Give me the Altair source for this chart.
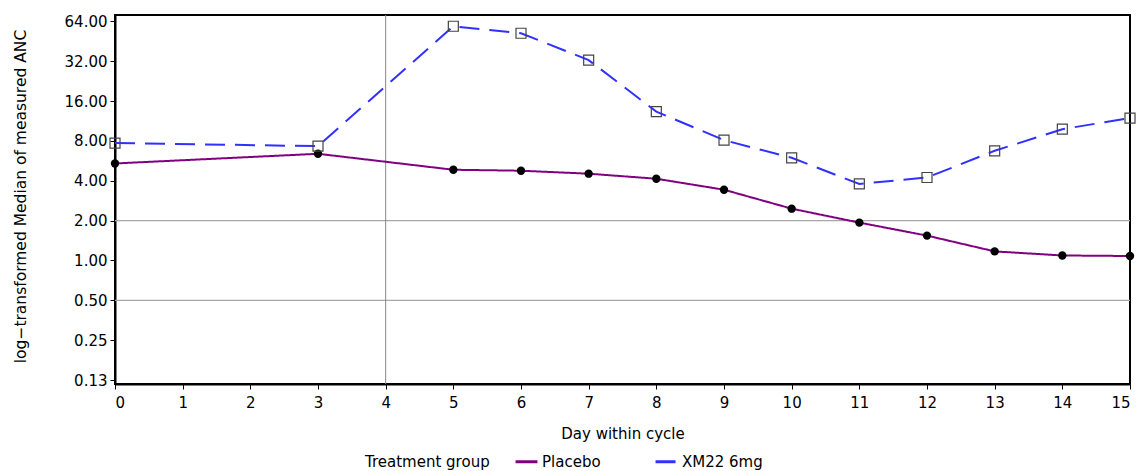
import altair as alt
import pandas as pd

days = [0, 3, 5, 6, 7, 8, 9, 10, 11, 12, 13, 14, 15]
placebo = [5.4, 6.39, 4.84, 4.76, 4.52, 4.14, 3.42, 2.46, 1.93, 1.54, 1.17, 1.09, 1.08]
xm22 = [7.7, 7.3, 58.7, 52.0, 32.6, 13.3, 8.1, 5.96, 3.78, 4.23, 6.73, 9.8, 11.9]
groups = ["Placebo", "XM22 6mg"]
colors = ["#800080", "#3030ff"]
y_ticks = [0.125, 0.25, 0.5, 1, 2, 4, 8, 16, 32, 64]
x_ticks = list(range(16))
ref_y = [0.5, 2]
ref_x = [4]

df = pd.DataFrame({
    "day": days + days,
    "anc": placebo + xm22,
    "group": [groups[0]] * len(days) + [groups[1]] * len(days),
})
refy_df = pd.DataFrame({"anc": ref_y})
refx_df = pd.DataFrame({"day": ref_x})

FONT = "DejaVu Sans"

xscale = alt.Scale(domain=[0, 15], nice=False, zero=False)
yscale = alt.Scale(type="log", base=2, domain=[0.1166, 71.4], nice=False)

xaxis = alt.Axis(values=x_ticks, title="Day within cycle", format="d",
                 labelPadding=6, titleY=42, titleBaseline="top")
yaxis = alt.Axis(values=y_ticks, format=".2f", title="log\u2212transformed Median of measured ANC",
                 labelPadding=3, titleX=-95, titleY=181, titleBaseline="middle", titleAngle=270,
                 titleFontSize=15.5)

X = alt.X("day:Q", scale=xscale, axis=xaxis)
Y = alt.Y("anc:Q", scale=yscale, axis=yaxis)

hrules = alt.Chart(refy_df).mark_rule(color="#a8a8a8", strokeWidth=1.2).encode(y=Y)
vrule = alt.Chart(refx_df).mark_rule(color="#888888", strokeWidth=1).encode(x=X)

lines = alt.Chart(df).mark_line(strokeWidth=2).encode(
    x=X, y=Y,
    color=alt.Color("group:N", scale=alt.Scale(domain=groups, range=colors),
                    legend=alt.Legend(title="Treatment group", orient="none", legendX=250, legendY=434,
                                      direction="horizontal", titleOrient="left", symbolType="stroke",
                                      symbolStrokeWidth=3, symbolSize=480, columnPadding=48,
                                      titlePadding=24, labelOffset=3, titleBaseline="line-top",
                                      titleLineHeight=7.5)),
    strokeDash=alt.StrokeDash("group:N", scale=alt.Scale(domain=groups, range=[[1, 0], [20, 10]]),
                              legend=None),
)

circles = alt.Chart(df).transform_filter(alt.datum.group == groups[0]).mark_point(
    shape="circle", filled=True, color="black", size=70, opacity=1
).encode(x=X, y=Y)

squares = alt.Chart(df).transform_filter(alt.datum.group == groups[1]).mark_point(
    shape="square", filled=False, color="#444444", size=100, strokeWidth=1.2, opacity=1
).encode(x=X, y=Y)

chart = alt.layer(hrules, vrule, lines, circles, squares).properties(
    width=1015, height=369,
    autosize=alt.AutoSizeParams(type="none"),
    padding={"left": 115, "top": 15, "right": 6, "bottom": 87},
).configure_view(
    stroke="black", strokeWidth=2
).configure_axis(
    grid=False, domainColor="black", domainWidth=2, tickColor="black", tickSize=5,
    labelFont=FONT, labelFontSize=15, labelColor="black",
    titleFont=FONT, titleFontSize=15, titleFontWeight="normal", titleColor="black",
).configure_legend(
    labelFont=FONT, labelFontSize=15, labelColor="black",
    titleFont=FONT, titleFontSize=15, titleFontWeight="normal", titleColor="black",
)

chart.save("out.html", embed_options={"renderer": "svg", "actions": False})
